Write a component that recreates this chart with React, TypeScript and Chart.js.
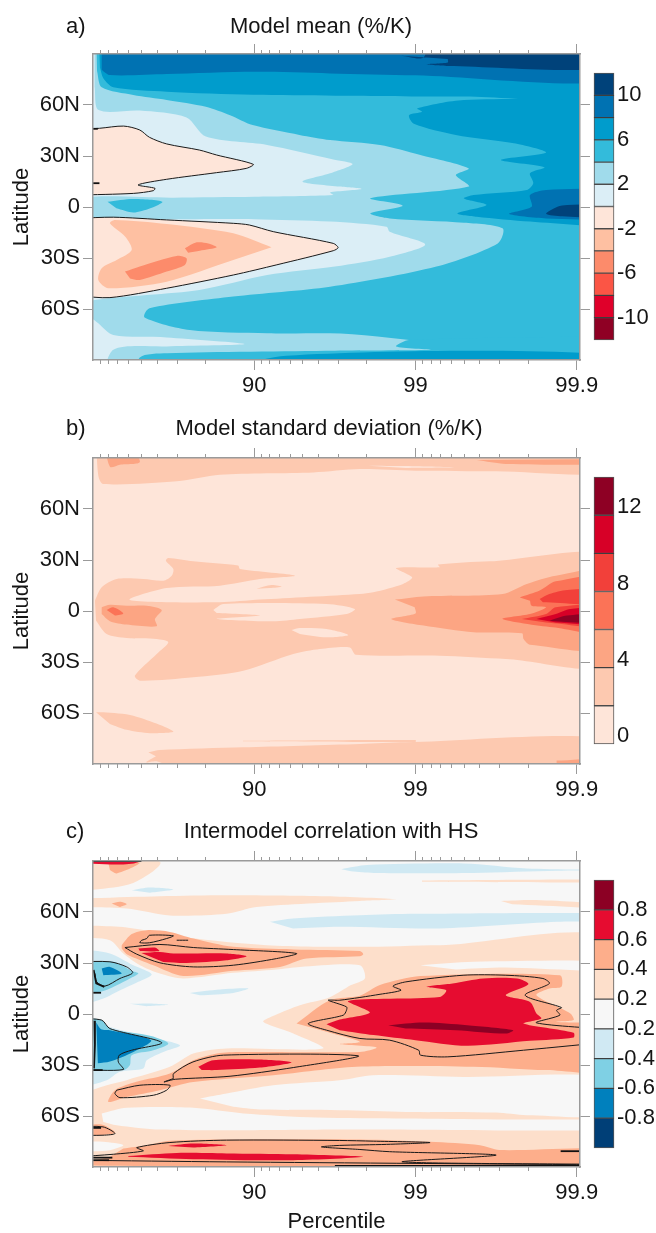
import React, { useEffect, useRef } from "react";
import { Chart } from "chart.js/auto";

type P = number[][];
const TEXT = "#151515";
const FRAME = "#9a9a9a";
const FONT = "'Liberation Sans', Arial, sans-serif";
const X_MAX = 3.02;

const xMajorValues = [1, 2, 3];
const xMajorLabels = ["90", "99", "99.9"];
const minorPercentiles = [10, 20, 30, 40, 50, 60, 70, 80, 91, 92, 93, 94, 95, 96, 97, 98, 99.1, 99.2, 99.3, 99.4, 99.5, 99.6, 99.7, 99.8];
const latValues = [60, 30, 0, -30, -60];
const latLabels = ["60N", "30N", "0", "30S", "60S"];

const fullRect: P = [[0, 90], [X_MAX, 90], [X_MAX, -90], [0, -90]];

// ---- Panel a: model mean
const aColors = ["#8f0024", "#e0002a", "#fb5545", "#fc8b6b", "#fec0a2", "#fee5d9", "#dbeef6", "#a0dbeb", "#33bbdb", "#009ccc", "#0072b2", "#00427a"];
const aLevels = [-12, -10, -8, -6, -4, -2, 0, 2, 4, 6, 8, 10, 12];
const aTickLevels = [-10, -6, -2, 2, 6, 10];
const aGe2: P = [[0.01, 90], [X_MAX, 90], [X_MAX, -90], [0.095, -90], [0.126, -84], [0.457, -82], [0.94, -80.6], [0.457, -76.7], [0.126, -75.3], [0.033, -68.4], [0, -57], [0.66, -48.8], [1.08, -40], [1.5, -35], [1.84, -29.2], [2.06, -22], [1.84, -14.5], [1.82, -11.6], [1.47, -8.6], [1, -7.2], [0, -5.5], [0, 5], [0.5, 5.5], [1, 6], [1.49, 7], [1.47, 8.6], [1.665, 10.6], [1.53, 12], [1.3, 14.9], [1.47, 19.8], [1.61, 25.3], [1.49, 28], [1.08, 36.5], [0.7, 41.4], [0.58, 52.7], [0.29, 56.7], [0.035, 57], [0.01, 70.8]];
const aGe4Main: P = [[0.02, 90], [X_MAX, 90], [X_MAX, -75.3], [1.47, -74.3], [1.08, -74.3], [0.6, -72.4], [0.32, -65], [0.35, -59.6], [0.87, -52.7], [1.47, -46.9], [2.13, -35], [2.51, -21.4], [2.54, -12.5], [2.3, -9.2], [1.84, -6.7], [1.72, -3.7], [1.92, 0.8], [1.72, 5.1], [2.33, 12], [2.25, 18.8], [2.33, 22.7], [2.03, 30.6], [1.78, 36.5], [1.47, 39.4], [1.28, 42.4], [0.99, 48.2], [0.85, 54], [0.7, 59], [0.457, 63], [0.25, 65.9], [0.054, 70.4], [0.025, 80]];
const aGe4Bottom: P = [[X_MAX, -76], [1.96, -78.2], [1.88, -82], [2.1, -84], [1.5, -84.5], [0.46, -86], [0.29, -88.5], [0.29, -90], [X_MAX, -90]];
const aGe4Island: P = [[0.09, 3.1], [0.25, 4.7], [0.43, 3.1], [0.355, -0.8], [0.25, -3.3], [0.145, -0.8]];
const aGe6Top: P = [[0.035, 90], [X_MAX, 90], [X_MAX, 65.9], [2.3, 65], [1.5, 65.5], [0.99, 66], [0.457, 67.8], [0.126, 70.4], [0.064, 75.7], [0.043, 82]];
const aGe6Right: P = [[X_MAX, 63.3], [2.3, 62.9], [2.01, 58], [2.04, 56], [1.96, 54], [1.99, 49], [2.25, 42.4], [2.61, 37.5], [2.81, 32], [2.53, 27.6], [2.8, 23.3], [2.71, 19.8], [2.73, 14], [2.69, 10], [2.36, 7], [2.3, 5], [2.44, 1.2], [2.26, -3.7], [2.38, -5.7], [2.71, -8.6], [X_MAX, -12.5]];
const aGe6Bottom: P = [[0.6, -90], [1.2, -87.5], [X_MAX, -87], [X_MAX, -90]];
const aGe8Top: P = [[0.054, 90], [X_MAX, 90], [X_MAX, 74.7], [2, 77.5], [1.47, 78.6], [1, 79.5], [0.457, 78.2], [0.105, 77.6], [0.054, 80.6]];
const aGe8Mid: P = [[X_MAX, 11], [2.81, 10], [2.71, 7], [2.72, 0.2], [2.58, -4], [2.81, -6.7], [X_MAX, -7.6]];
const aGe8Bottom: P = [[2, -90], [X_MAX, -88.5], [X_MAX, -90]];
const aGe10Top: P = [[1.91, 89], [2.05, 88], [2.1, 90], [X_MAX, 90], [X_MAX, 82.5], [2.2, 83], [2.07, 84], [2.2, 85], [2.2, 87]];
const aGe10Mid: P = [[X_MAX, 1.8], [2.94, 1.2], [2.88, 0.2], [2.81, -4], [2.91, -5.5], [X_MAX, -6.7]];
const aNegNorth: P = [[0, 45.7], [0.04, 46.3], [0.19, 47.6], [0.29, 45.3], [0.35, 41], [0.457, 37.1], [0.66, 33.5], [0.766, 30.6], [0.994, 25.1], [0.95, 22.7], [0.766, 20.2], [0.457, 16.3], [0.28, 13], [0.384, 11], [0.374, 9.6], [0.25, 8], [0, 7]];
const aNegSouth: P = [[0, -6.7], [0.126, -6], [0.457, -7.6], [0.87, -9.6], [0.97, -10.6], [1.118, -14.5], [1.49, -21.4], [1.52, -23.9], [1.49, -25.7], [1.14, -34], [0.87, -40], [0.457, -47.8], [0.105, -53.3], [0, -52.2]];
const aLeM2: P = [[1.107, -23.7], [0.87, -15.5], [0.457, -10], [0.136, -7.6], [0.105, -9.6], [0.2, -17.5], [0.24, -25.3], [0.147, -31.2], [0.054, -36], [0.033, -43], [0.095, -47.8], [0.457, -43.9], [0.87, -31.2]];
const aLeM4a: P = [[0.198, -38], [0.29, -35], [0.519, -28.8], [0.58, -30.2], [0.57, -34.1], [0.457, -38], [0.29, -42.9], [0.23, -42]];
const aLeM4b: P = [[0.57, -24.3], [0.643, -20.8], [0.715, -21.4], [0.767, -23.7], [0.663, -25.7], [0.59, -26.9]];
const aFills: [string, P][] = [
  ["#dbeef6", fullRect], ["#a0dbeb", aGe2], ["#33bbdb", aGe4Main], ["#33bbdb", aGe4Bottom], ["#33bbdb", aGe4Island],
  ["#009ccc", aGe6Top], ["#009ccc", aGe6Right], ["#009ccc", aGe6Bottom],
  ["#0072b2", aGe8Top], ["#0072b2", aGe8Mid], ["#0072b2", aGe8Bottom],
  ["#00427a", aGe10Top], ["#00427a", aGe10Mid],
  ["#fee5d9", aNegNorth], ["#fee5d9", aNegSouth], ["#fec0a2", aLeM2], ["#fc8b6b", aLeM4a], ["#fc8b6b", aLeM4b],
];
const aLines: P[] = [aNegNorth, aNegSouth];
const aHeavy: P[] = [[[0, 14], [0.04, 14]], [[0, 46], [0.03, 46]]];

// ---- Panel b: model standard deviation
const bColors = ["#fee5d9", "#fdc9b0", "#fca583", "#fb7357", "#f2403a", "#d70027", "#8e0024"];
const bLevels = [0, 2, 4, 6, 8, 10, 12, 14];
const bTickLevels = [0, 4, 8, 12];
const bGe2North: P = [[0.019, 90], [0.033, 79.6], [0.064, 74.7], [0.52, 76.3], [0.787, 80.2], [1.366, 81.5], [1.655, 83.5], [2, 82.5], [2.5, 82.2], [X_MAX, 82], [X_MAX, 90]];
const bGe2Center: P = [[0.012, 6.1], [0.054, 13.9], [0.147, 18.8], [0.312, 18.8], [0.436, 17.8], [0.488, 20.8], [0.498, 24.7], [0.452, 29.6], [0.467, 31.2], [0.622, 29.2], [0.9, 26.7], [0.911, 24.7], [1.252, 20.8], [1.035, 18.8], [0.787, 14.9], [0.457, 13.5], [0.229, 6.5], [0.787, 5.1], [1.035, 6.7], [1.655, 10], [1.738, 11], [1.923, 15.9], [1.979, 19.8], [1.88, 25.3], [2.15, 25.7], [2.14, 27.3], [2.46, 29.2], [X_MAX, 31.2], [X_MAX, -31.2], [2.56, -28.2], [2.15, -26.3], [1.63, -25.7], [1.593, -21.4], [1.407, -22.4], [1.242, -25.3], [0.932, -35.1], [0.622, -39], [0.291, -41], [0.26, -38], [0.395, -25.3], [0.467, -18.4], [0.395, -16.5], [0.209, -15.9], [0.085, -13.5], [0.019, -5.7]];
const bGe2Island: P = [[1.014, 13.1], [1.107, 15.3], [1.169, 14.3], [1.097, 13.5]];
const bGe2South: P = [[0.019, -59.6], [0.064, -59.6], [0.25, -61.6], [0.498, -70.8], [0.353, -71.9], [0.209, -69.9], [0.105, -66.4]];
const bGe2Sliver: P = [[0.93, -76.3], [2, -75.9], [2, -77], [0.93, -76.6]];
const bGe2Bottom: P = [[0.343, -83.1], [0.415, -81.8], [0.932, -80.2], [1.655, -78.2], [1.94, -77.2], [X_MAX, -75.9], [X_MAX, -90], [0.8, -90], [0.4, -88.5], [0.33, -89], [0.39, -85.5]];
const bLow1: P = [[0.746, 0.6], [0.808, 4.1], [1.448, 4.1], [1.624, 1.2], [1.572, -1.8], [1.283, -4.7], [1.118, -6.1], [0.767, -4.7], [1.035, -2.7], [0.767, -1.2]];
const bLow2: P = [[1.231, -11.2], [1.283, -10], [1.448, -10.6], [1.583, -14.1], [1.448, -15.5], [1.283, -13.5]];
const bLow3: P = [[1.707, 85.5], [1.94, 85.3], [2.25, 84.5], [1.94, 84.1]];
const bGe4Left: P = [[0.054, 2.2], [0.105, 3.7], [0.209, 3.1], [0.333, 3.1], [0.426, 0.6], [0.384, -4.7], [0.395, -9], [0.209, -8], [0.105, -6], [0.054, -1.8]];
const bGe4North: P = [[0.064, 90], [0.105, 84.9], [0.167, 86.1], [0.291, 87.8], [0.188, 90]];
const bGe4TopRight: P = [[2.38, 88.8], [2.56, 86.5], [X_MAX, 86.5], [X_MAX, 89.4]];
const bGe4Right: P = [[1.872, 6.7], [2.048, 8.6], [2.54, 10], [2.69, 15.9], [2.87, 20.8], [X_MAX, 24.1], [X_MAX, -21.4], [2.71, -19.8], [2.67, -16.5], [2.66, -13.1], [2.36, -12.5], [2.05, -8.6], [1.85, -4.7], [2, -1.4], [1.995, 2.2]];
const bGe4Corner: P = [[2.875, -88], [X_MAX, -87.6], [X_MAX, -90], [2.875, -90]];
const bGe6Right: P = [[2.647, 8], [2.77, 12], [2.87, 17.5], [X_MAX, 20.2], [X_MAX, -12.5], [2.85, -9.6], [2.54, -4.7], [2.71, -1.8], [2.81, 2.2], [2.72, 3.1], [2.71, 6.1]];
const bGe6Left: P = [[0.085, 0.6], [0.126, 2.2], [0.188, -1.4], [0.136, -2.7]];
const bGe8Up: P = [[2.77, 7], [2.83, 10], [2.94, 12.4], [X_MAX, 12.9], [X_MAX, 4.1], [2.79, 5.1]];
const bGe8Low: P = [[2.66, -4.7], [2.81, -1.8], [2.87, 2.2], [X_MAX, 3.1], [X_MAX, -9.6], [2.81, -6.7]];
const bGe10: P = [[2.75, -4.7], [2.87, -1.8], [2.96, 1.2], [X_MAX, 1.6], [X_MAX, -8], [2.87, -6.7]];
const bGe12: P = [[2.83, -5.7], [2.94, -2.7], [X_MAX, -1.2], [X_MAX, -7.3], [2.91, -6.3]];
const bFills: [string, P][] = [
  ["#fee5d9", fullRect], ["#fdc9b0", bGe2North], ["#fdc9b0", bGe2Center], ["#fdc9b0", bGe2Island], ["#fdc9b0", bGe2South], ["#fdc9b0", bGe2Sliver], ["#fdc9b0", bGe2Bottom],
  ["#fee5d9", bLow1], ["#fee5d9", bLow2], ["#fee5d9", bLow3],
  ["#fca583", bGe4Left], ["#fca583", bGe4North], ["#fca583", bGe4TopRight], ["#fca583", bGe4Right], ["#fca583", bGe4Corner],
  ["#fb7357", bGe6Right], ["#fb7357", bGe6Left], ["#f2403a", bGe8Up], ["#f2403a", bGe8Low], ["#d70027", bGe10], ["#8e0024", bGe12],
];

// ---- Panel c: intermodel correlation
const cColors = ["#003f77", "#0080bd", "#7fd0e4", "#d0e9f3", "#f7f7f7", "#fddfcb", "#fdae8b", "#e60c30", "#8c0024"];
const cLevels = [-1, -0.8, -0.6, -0.4, -0.2, 0.2, 0.4, 0.6, 0.8, 1];
const cTickLevels = [-0.8, -0.6, -0.4, -0.2, 0.2, 0.4, 0.6, 0.8];
const cPosTop: P = [[0, 90], [0.415, 89.5], [0.24, 76.7], [0, 72]];
const cPosNorth: P = [[0, 67.9], [0.415, 69.3], [0.828, 69.9], [1.448, 69.3], [1.88, 67.5], [1.655, 66.5], [1.014, 63], [0.828, 59], [0.477, 58], [0.209, 62], [0, 63]];
const cPosThin: P = [[2.04, 78.5], [X_MAX, 79], [X_MAX, 77.5], [2.04, 77.8]];
const cPosThin2: P = [[2.53, 66.5], [2.75, 67], [X_MAX, 64], [X_MAX, 62], [2.6, 64.5]];
const cPosMain: P = [[0, 52.2], [0.209, 50.9], [0.58, 45], [1.076, 40.5], [1.655, 39.5], [2.15, 40.5], [X_MAX, 40.5], [X_MAX, -90], [0, -90]];
const cWhite1: P = [[0, 45], [0.105, 43.4], [0.188, 35.6], [0.291, 28.7], [0.415, 23.8], [0.56, 20.9], [0.87, 24.2], [1.138, 26.2], [1.283, 27.7], [1.655, 28.7], [1.686, 20.9], [1.6, 17], [1.469, 9.9], [1.283, 5.2], [1.128, -0.7], [1.056, -4.6], [1.242, -11.5], [1.426, -20.3], [0.828, -20.3], [0.622, -23.3], [0.477, -31.1], [0.209, -38.9], [0.085, -41.9], [0, -47.8]];
const cWhite2: P = [[0.663, -49.7], [0.828, -46.8], [1.118, -41.9], [1.53, -39], [1.738, -36], [2.295, -37], [X_MAX, -38], [X_MAX, -58.5], [2.69, -59.5], [2.5, -58], [1.94, -57.6], [1.53, -56.6], [1.035, -56.2], [0.87, -54.6]];
const cWhite3: P = [[0.054, -58.5], [0.209, -55.2], [0.622, -55.2], [0.932, -58.5], [1.386, -60.9], [1.94, -61.5], [2.5, -62], [X_MAX, -63], [X_MAX, -68], [1.53, -68], [0.932, -68.4], [0.415, -68], [0.147, -65.4], [0.064, -63.5]];
const cWhite4: P = [[0, -75.2], [0.062, -75.2], [0.188, -77.2], [0.105, -80.1], [0, -81.1]];
const cWhite5: P = [[2.03, 28.7], [2.36, 30.7], [X_MAX, 30.7], [X_MAX, 25.4], [2.56, 27.3], [2.25, 26.2]];
const cBlueN1: P = [[0, 38.5], [0.105, 35.6], [0.25, 28.7], [0.364, 23.4], [0.281, 18.9], [0.147, 13], [0.064, 9.1], [0, 4.2]];
const cBlueN2: P = [[0, 30.7], [0.126, 30.7], [0.24, 25.4], [0.281, 23.8], [0.229, 20.9], [0.105, 15], [0.043, 13], [0, 11.6]];
const cBlueN3: P = [[0.054, 26.7], [0.105, 27.7], [0.178, 23.8], [0.064, 22.8]];
const cBlueS1: P = [[0, 0.7], [0.105, -7.6], [0.353, -13.5], [0.539, -18.4], [0.436, -22.3], [0.333, -27.2], [0.312, -32], [0.167, -34], [0.085, -39], [0, -44]];
const cBlueS2: P = [[0, -2], [0.054, -3.6], [0.105, -8.6], [0.36, -13], [0.467, -17.4], [0.374, -21.3], [0.24, -24.2], [0.229, -30], [0.188, -33], [0, -33]];
const cBlueS3: P = [[0.02, -5], [0.05, -9], [0.105, -9.5], [0.36, -15.4], [0.25, -22.3], [0.105, -28], [0.03, -29]];
const cLight1: P = [[0.24, 72.8], [0.353, 74.4], [0.498, 73.2], [0.353, 71.3]];
const cLight2: P = [[1.097, 54.2], [1.24, 56.2], [1.655, 58.1], [2, 58.9], [X_MAX, 58.9], [X_MAX, 55], [2.88, 54.2], [2.15, 50.3], [1.53, 51.3], [1.24, 50.3]];
const cLight3: P = [[1.54, 85.2], [1.7, 87.6], [2.3, 88.5], [2.69, 85.6], [X_MAX, 84.6], [2.88, 84.2], [2.36, 83], [1.74, 83], [1.6, 84]];
const cLight4: P = [[0.6, 12.4], [0.787, 14.4], [0.963, 15], [0.87, 12.4], [0.663, 11]];
const cLight5: P = [[0.229, 6], [0.353, 6.2], [0.467, 5.4], [0.333, 4.6]];
const cLight6: P = [[0.5, -90], [X_MAX, -90], [X_MAX, -89], [0.5, -89.3]];
const cOr1: P = [[0.095, 89], [0.29, 89], [0.147, 82.7], [0.105, 84.7]];
const cOr2: P = [[0.116, 65], [0.167, 66], [0.209, 64.6], [0.167, 63]];
const cOr3: P = [[0.178, 40.5], [0.24, 47], [0.333, 49.3], [0.477, 48.3], [0.622, 44.4], [0.87, 39.5], [1.242, 38], [1.655, 37], [1.676, 35.2], [1.655, 34], [1.324, 32.6], [1.159, 27.7], [0.87, 25.4], [0.56, 22.4], [0.374, 28.7], [0.209, 35.2], [0.178, 38.5]];
const cOr4: P = [[1.262, -5.6], [1.469, 8.1], [1.655, 10.7], [1.779, 17], [2.03, 22.3], [2.895, 22.8], [2.905, 16], [2.83, 15], [2.75, 11], [2.96, 0.3], [2.98, -3.6], [2.875, -4.6], [X_MAX, -8.5], [X_MAX, -33], [2.81, -33], [2.36, -31], [1.634, -31], [1.118, -36], [0.622, -40], [0.415, -44.8], [0.209, -48.8], [0.095, -51.7], [0.136, -44.8], [0.27, -39.9], [0.477, -35], [0.622, -27.2], [0.787, -22.9], [1.035, -22.3], [1.655, -22.3], [1.758, -19.7], [1.53, -17.7], [1.655, -16.4], [1.448, -10.5]];
const cOr5: P = [[0.188, -79.1], [0.333, -77.2], [0.477, -74.6], [0.828, -73.8], [1.655, -73.8], [2.09, -75.2], [2.4, -77.2], [2.52, -80], [X_MAX, -79.7], [X_MAX, -89], [0, -89], [0.105, -84]];
const cOr6: P = [[0, -66], [0.054, -65], [0.136, -70], [0, -72]];
const cRed0: P = [[0, 90], [0.28, 90], [0.28, 89.3], [0, 88.6]];
const cRed1a: P = [[0.3, 35.9], [0.415, 36.5], [0.498, 35.6], [0.828, 35.6], [0.952, 34], [0.828, 31.6], [0.58, 30], [0.436, 30.6]];
const cRed1b: P = [[0.281, 38.5], [0.384, 39.1], [0.411, 37], [0.291, 37.1]];
const cRed2: P = [[1.448, -6], [1.53, -3.3], [1.717, 0.9], [1.583, 7.7], [2.15, 10], [2.19, 14], [2.07, 16], [2.23, 17.9], [2.42, 20.9], [2.63, 20.9], [2.7, 17.5], [2.56, 11], [2.71, 7.1], [2.75, 0.3], [2.78, -2.6], [2.67, -5.6], [2.98, -11], [2.98, -13.8], [2.71, -15.8], [2.32, -18.7], [2, -15.4], [1.74, -12.4], [1.53, -9.5]];
const cRed3: P = [[0.653, -31], [0.746, -27.2], [1.035, -26.8], [1.231, -28.5], [1.035, -31.5], [0.767, -33], [0.674, -33]];
const cRed4: P = [[0.467, -77.6], [0.622, -76.2], [0.828, -77.2], [0.622, -78.6]];
const cRed5: P = [[0.219, -83.5], [0.519, -81.7], [0.828, -82], [1.242, -82.5], [1.676, -84], [1.242, -86], [0.622, -85.4], [0.219, -84]];
const cDark: P = [[1.83, -6.6], [2.05, -5], [2.32, -6.6], [2.605, -9.5], [2.56, -11.5], [2.25, -9.5], [1.94, -8.5]];
const cFills: [string, P][] = [
  ["#f7f7f7", fullRect],
  ["#fddfcb", cPosTop], ["#fddfcb", cPosNorth], ["#fddfcb", cPosThin], ["#fddfcb", cPosThin2], ["#fddfcb", cPosMain],
  ["#f7f7f7", cWhite1], ["#f7f7f7", cWhite2], ["#f7f7f7", cWhite3], ["#f7f7f7", cWhite4], ["#f7f7f7", cWhite5],
  ["#d0e9f3", cBlueN1], ["#d0e9f3", cBlueS1], ["#d0e9f3", cLight1], ["#d0e9f3", cLight2], ["#d0e9f3", cLight3], ["#d0e9f3", cLight4], ["#d0e9f3", cLight5], ["#d0e9f3", cLight6],
  ["#7fd0e4", cBlueN2], ["#7fd0e4", cBlueS2], ["#0080bd", cBlueN3], ["#0080bd", cBlueS3],
  ["#fdae8b", cOr1], ["#fdae8b", cOr2], ["#fdae8b", cOr3], ["#fdae8b", cOr4], ["#fdae8b", cOr5], ["#fdae8b", cOr6],
  ["#e60c30", cRed0], ["#e60c30", cRed1a], ["#e60c30", cRed1b], ["#e60c30", cRed2], ["#e60c30", cRed3], ["#e60c30", cRed4], ["#e60c30", cRed5],
  ["#8c0024", cDark],
];
const cK1: P = [[0.198, 39.1], [0.415, 40.9], [0.622, 39.1], [0.87, 37.9], [1.262, 35.6], [1.138, 32.6], [0.87, 28.7], [0.622, 27.7], [0.415, 30.1], [0.271, 35.2], [0.198, 39.1]];
const cK2: P = [[0.302, 43.4], [0.333, 44.4], [0.35, 46.3], [0.498, 46], [0.457, 44.4], [0.35, 41.9], [0.29, 42], [0.302, 43.4]];
const cK2b: P = [[0.519, 43.4], [0.59, 43.4]];
const cK3: P = [[0, 30.7], [0.105, 30.7], [0.209, 27.7], [0.246, 24.2], [0.167, 20.9], [0.074, 16.4], [0.023, 18.9], [0.006, 24.8], [0, 30.7]];
const cK4: P = [[0, -2.7], [0.054, -3.6], [0.105, -8.6], [0.426, -16.8], [0.24, -21.3], [0.163, -24.2], [0.157, -28.2], [0.188, -32.7], [0, -32.7]];
const cK5: P = [[0.498, -38], [0.5, -35], [0.62, -28.2], [0.81, -24.2], [1.645, -24.6], [1.242, -31.5], [0.85, -36.6], [0.51, -38.4], [0.44, -40], [0.498, -38]];
const cK6: P = [[0.147, -44.8], [0.291, -41.9], [0.477, -41.9], [0.457, -44.8], [0.374, -47.8], [0.167, -49.2], [0.136, -46.8], [0.147, -44.8]];
const cK7: P = [[0, -66.4], [0.062, -66.4], [0.136, -70.3], [0.062, -71.3], [0, -71.3]];
const cK8: P = [[0, -84], [0.126, -82.5], [0.312, -80.5], [0.271, -78.6], [0.477, -75.6], [0.828, -74.2], [1.53, -74.4], [1.738, -74.8], [2.09, -75.6], [1.82, -76.7], [1.53, -77.3], [1.417, -78.2], [1.655, -79.7], [1.84, -81], [2.5, -83], [1.92, -87], [X_MAX, -88.5]];
const cK8b: P = [[X_MAX, -88.8], [0.828, -87], [0, -86]];
const cK9: P = [[X_MAX, -9.5], [2.75, -5.2], [2.895, -0.7], [2.875, 2.2], [2.905, 3.8], [2.68, 11], [2.83, 17.9], [2.79, 20.9], [2.56, 22.8], [2.295, 22.8], [1.94, 18.9], [1.86, 16.4], [1.91, 14], [1.78, 11.6], [1.53, 8.1], [1.459, 8.1], [1.572, 4.2], [1.572, 2.2], [1.552, -0.7], [1.335, -5.6], [1.448, -9.5], [1.655, -14.4], [1.84, -15.4], [2.02, -21.3], [2.03, -24.2], [2.2, -25.2], [2.67, -21.3], [X_MAX, -15.8]];
const cLinesThin: P[] = [cK1, cK2, cK2b, cK3, cK4, cK5, cK6, cK7, cK8, cK8b, cK9];
const cHeavy: P[] = [[[0.004, 26], [0.02, 18], [0.07, 16]], [[0, 12.5], [0.05, 12.5]], [[0.008, -4], [0.012, -18], [0.006, -32]], [[0, -33], [0.06, -33]], [[0, -67], [0.05, -67]], [[0, -84.5], [0.12, -84.5]], [[0, -86], [0.1, -86]], [[2.9, -80.7], [X_MAX, -80.7]], [[0, 90], [0.3, 90]], [[1.5, -89.3], [X_MAX, -89.3]]];

const decades = (p: number) => -Math.log10(1 - p / 100);
const minorValues = minorPercentiles.map(decades);

// Shape vertices that lie on the frame are carried past it, so the rounded outline is cut by the chart-area clip.
const pastFrame = ([x, y]: number[]) => ({
  x: x >= X_MAX ? x + 0.25 : x <= 0 ? x - 0.1 : x,
  y: y >= 90 ? y + 12 : y <= -90 ? y - 12 : y,
});

function makeDatasets(fills: [string, P][], thin: P[], heavy: P[]) {
  const out: any[] = [];
  fills.forEach(([color, pts]) => out.push({
    data: pts === fullRect ? pts.map(([x, y]) => ({ x, y })) : pts.map(pastFrame),
    fill: "shape", backgroundColor: color, borderWidth: 0, pointRadius: 0,
    tension: pts === fullRect ? 0 : 0.28, capBezierPoints: false,
  }));
  thin.forEach((pts) => out.push({ data: pts.map(pastFrame), fill: false, borderColor: "#1a1a1a", borderWidth: 1, pointRadius: 0, tension: 0.28, capBezierPoints: false }));
  heavy.forEach((pts) => out.push({ data: pts.map(([x, y]) => ({ x, y })), fill: false, borderColor: "#111111", borderWidth: 1.8, pointRadius: 0, tension: 0 }));
  const n = out.length;
  out.forEach((d, i) => { d.order = n - i; });
  return out;
}

const lockTicks = (vals: number[]) => (s: any) => { s.ticks = vals.map((value) => ({ value })); };

function axisX(position: string, vals: number[], len: number, weight: number, size: number, labels: boolean, titleText?: string, titlePad = 0): any {
  return {
    type: "linear", axis: "x", position, min: 0, max: X_MAX, bounds: "data", weight,
    afterBuildTicks: lockTicks(vals),
    afterFit: (s: any) => { s.height = size; },
    grid: { drawOnChartArea: false, color: FRAME, lineWidth: 1, tickLength: len },
    border: { display: size > 0, color: FRAME, width: 1.5, z: 2 },
    ticks: {
      display: labels, autoSkip: false, maxRotation: 0, minRotation: 0, padding: 3, color: TEXT, font: { family: FONT, size: 22 },
      callback: (v: number) => xMajorLabels[xMajorValues.indexOf(v)] ?? "",
    },
    title: titleText ? { display: true, text: titleText, color: TEXT, font: { family: FONT, size: 22 }, padding: { top: 0, bottom: titlePad } } : { display: false },
  };
}

function axisY(position: string, size: number, labels: boolean): any {
  return {
    type: "linear", position, min: -90, max: 90, bounds: "data",
    afterBuildTicks: lockTicks(latValues),
    afterFit: (s: any) => { s.width = size; },
    grid: { drawOnChartArea: false, color: FRAME, lineWidth: 1, tickLength: 10 },
    border: { display: true, color: FRAME, width: 1.5, z: 2 },
    ticks: {
      display: labels, autoSkip: false, padding: 3, color: TEXT, font: { family: FONT, size: 22 },
      callback: (v: number) => latLabels[latValues.indexOf(v)] ?? "",
    },
    title: labels ? { display: true, text: "Latitude", color: TEXT, font: { family: FONT, size: 22 }, padding: { top: 9, bottom: 0 } } : { display: false },
  };
}

const panelText = {
  id: "panelText",
  afterDraw(chart: any, _a: any, o: any) {
    const c = chart.ctx;
    c.save();
    c.fillStyle = TEXT;
    c.font = `22px ${FONT}`;
    c.textBaseline = "middle";
    c.textAlign = "left";
    c.fillText(o.tag, 66, o.y);
    c.textAlign = "center";
    c.fillText(o.title, o.cx, o.y);
    c.restore();
  },
};

interface PanelProps { top: number; height: number; areaTop: number; tag: string; title: string; cx: number; textY: number; fills: [string, P][]; thin: P[]; heavy: P[]; xTitle?: string; }

function Panel({ top, height, areaTop, tag, title, cx, textY, fills, thin, heavy, xTitle }: PanelProps) {
  const ref = useRef<HTMLCanvasElement>(null);
  useEffect(() => {
    const chart = new Chart(ref.current!, {
      type: "line",
      data: { datasets: makeDatasets(fills, thin, heavy) },
      plugins: [panelText],
      options: {
        animation: false, responsive: false, events: [],
        scales: {
          x: axisX("bottom", xMajorValues, 10, 1, height - areaTop - 306, true, xTitle, 1),
          xMinorB: axisX("bottom", minorValues, 4, 0, 0, false),
          xT: axisX("top", xMajorValues, 10, 1, areaTop, false),
          xMinorT: axisX("top", minorValues, 4, 0, 0, false),
          y: axisY("left", 93, true),
          yR: axisY("right", 76, false),
        },
        plugins: { legend: { display: false }, tooltip: { enabled: false }, panelText: { tag, title, cx, y: textY } } as any,
      },
    } as any);
    return () => chart.destroy();
  }, []);
  return <canvas ref={ref} width={656} height={height} style={{ position: "absolute", left: 0, top, width: 656, height }} />;
}

function ColorBar({ top, height, colors, levels, tickLevels, labelOffset }: { top: number; height: number; colors: string[]; levels: number[]; tickLevels: number[]; labelOffset: number }) {
  const ref = useRef<HTMLCanvasElement>(null);
  useEffect(() => {
    const chart = new Chart(ref.current!, {
      type: "bar",
      data: {
        labels: ["level"],
        datasets: colors.map((c, i) => ({
          data: [[i, i + 1]], backgroundColor: c, borderColor: "rgba(30,30,30,0.75)", borderWidth: 1, borderSkipped: false, clip: false,
          barPercentage: 1, categoryPercentage: 1, grouped: false,
        })),
      },
      options: {
        animation: false, responsive: false, events: [],
        layout: { padding: { top: 12, bottom: 12, left: 4, right: 0 } },
        scales: {
          x: { display: false },
          y: {
            type: "linear", position: "right", min: 0, max: colors.length, bounds: "data",
            afterBuildTicks: lockTicks(tickLevels.map((l) => levels.indexOf(l))),
            afterFit: (s: any) => { s.width = 42; },
            grid: { display: false, drawTicks: false },
            border: { display: false },
            ticks: {
              autoSkip: false, padding: 3, labelOffset, color: TEXT, font: { family: FONT, size: 22 },
              callback: (v: number) => String(levels[v]),
            },
          },
        },
        plugins: { legend: { display: false }, tooltip: { enabled: false } },
      },
    } as any);
    return () => chart.destroy();
  }, []);
  return <canvas ref={ref} width={66} height={height + 24} style={{ position: "absolute", left: 590, top: top - 12, width: 66, height: height + 24 }} />;
}

export default function App() {
  return (
    <div style={{ position: "absolute", left: 0, top: 0, width: 656, height: 1233, background: "#fff", overflow: "hidden" }}>
      <Panel top={0} height={410} areaTop={54} tag="a)" title="Model mean (%/K)" cx={321} textY={27} fills={aFills} thin={aLines} heavy={aHeavy} />
      <Panel top={402} height={408} areaTop={56} tag="b)" title="Model standard deviation (%/K)" cx={329} textY={27} fills={bFills} thin={[]} heavy={[]} />
      <Panel top={805} height={431} areaTop={56} tag="c)" title="Intermodel correlation with HS" cx={331} textY={27} fills={cFills} thin={cLinesThin} heavy={cHeavy} xTitle="Percentile" />
      <ColorBar top={69} height={275} colors={aColors} levels={aLevels} tickLevels={aTickLevels} labelOffset={0} />
      <ColorBar top={473} height={275} colors={bColors} levels={bLevels} tickLevels={bTickLevels} labelOffset={-8} />
      <ColorBar top={876} height={276} colors={cColors} levels={cLevels} tickLevels={cTickLevels} labelOffset={0} />
    </div>
  );
}
